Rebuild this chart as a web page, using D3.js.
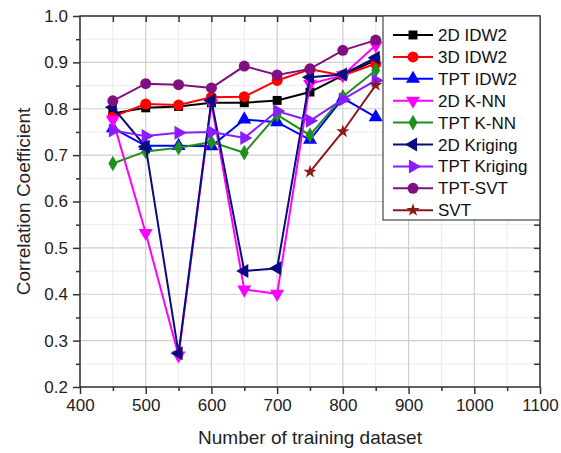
<!DOCTYPE html>
<html><head><meta charset="utf-8">
<script src="https://cdn.jsdelivr.net/npm/d3@7"></script>
<style>body{margin:0;background:#fff;} text{font-family:"Liberation Sans",Arial,sans-serif;}</style>
</head><body>
<svg id="c" width="561" height="453"></svg>
<script>
const xValues = [450, 500, 550, 600, 650, 700, 750, 800, 850];
const seriesNames = ["2D IDW2","3D IDW2","TPT IDW2","2D K-NN","TPT K-NN","2D Kriging","TPT Kriging","TPT-SVT","SVT"];
const idw2D      = [0.790, 0.802, 0.805, 0.813, 0.813, 0.818, 0.836, 0.872, 0.905];
const idw3D      = [0.783, 0.810, 0.808, 0.825, 0.826, 0.861, 0.885, 0.872, 0.897];
const idwTPT     = [0.758, 0.720, 0.720, 0.719, 0.777, 0.771, 0.733, 0.823, 0.782];
const knn2D      = [0.776, 0.532, 0.268, 0.812, 0.410, 0.401, 0.854, 0.872, 0.937];
const knnTPT     = [0.682, 0.708, 0.716, 0.728, 0.705, 0.787, 0.743, 0.826, 0.883];
const kriging2D  = [0.803, 0.718, 0.273, 0.818, 0.450, 0.456, 0.868, 0.874, 0.910];
const krigingTPT = [0.753, 0.741, 0.748, 0.750, 0.737, 0.795, 0.774, 0.820, 0.861];
const svtTPT     = [0.817, 0.854, 0.852, 0.845, 0.892, 0.873, 0.886, 0.926, 0.948];
const svt        = [null, null, null, null, null, null, 0.664, 0.751, 0.851];
const xTicks = [400, 500, 600, 700, 800, 900, 1000, 1100];
const yTicks = [0.2, 0.3, 0.4, 0.5, 0.6, 0.7, 0.8, 0.9, 1.0];

const allSeries = [idw2D, idw3D, idwTPT, knn2D, knnTPT, kriging2D, krigingTPT, svtTPT, svt];
const colors = ["#000000","#ff0000","#0000ff","#ff00ff","#1f8f1f","#0b0b80","#8a1cff","#80107f","#8b1a1a"];
const shapes = [
  {t:d3.symbolSquare, r:0, s:80},
  {t:d3.symbolCircle, r:0, s:95},
  {t:d3.symbolTriangle, r:0, s:85},
  {t:d3.symbolTriangle, r:180, s:85},
  {t:d3.symbolDiamond, r:0, s:70},
  {t:d3.symbolTriangle, r:-90, s:85},
  {t:d3.symbolTriangle, r:90, s:85},
  {t:d3.symbolCircle, r:0, s:95},
  {t:d3.symbolStar, r:0, s:55}
];

const svg = d3.select("#c");
const L = 80, R = 540, T = 16, B = 387;
const x = d3.scaleLinear().domain([400, 1100]).range([L, R]);
const y = d3.scaleLinear().domain([0.2, 1.0]).range([B, T]);

// grid
const minorX = d3.range(450, 1100, 100);
const minorY = d3.range(0.25, 1.0, 0.1);
const g = svg.append("g");
g.selectAll(".mx").data(minorX).enter().append("line")
  .attr("x1", d => x(d)).attr("x2", d => x(d)).attr("y1", T).attr("y2", B)
  .attr("stroke", "#ececec").attr("stroke-width", 1);
g.selectAll(".my").data(minorY).enter().append("line")
  .attr("y1", d => y(d)).attr("y2", d => y(d)).attr("x1", L).attr("x2", R)
  .attr("stroke", "#ececec").attr("stroke-width", 1);
g.selectAll(".gx").data(xTicks).enter().append("line")
  .attr("x1", d => x(d)).attr("x2", d => x(d)).attr("y1", T).attr("y2", B)
  .attr("stroke", "#cfcfcf").attr("stroke-width", 1.2);
g.selectAll(".gy").data(yTicks).enter().append("line")
  .attr("y1", d => y(d)).attr("y2", d => y(d)).attr("x1", L).attr("x2", R)
  .attr("stroke", "#cfcfcf").attr("stroke-width", 1.2);

// axes
const fmtY = d3.format(".1f");
const axBottom = svg.append("g").attr("transform", `translate(0,${B})`)
  .call(d3.axisBottom(x).tickValues(xTicks).tickSize(7).tickPadding(5).tickFormat(d3.format("d")));
const axBottomMinor = svg.append("g").attr("transform", `translate(0,${B})`)
  .call(d3.axisBottom(x).tickValues(minorX).tickSize(4).tickFormat(""));
const axLeft = svg.append("g").attr("transform", `translate(${L},0)`)
  .call(d3.axisLeft(y).tickValues(yTicks).tickSize(7).tickPadding(5).tickFormat(fmtY));
const axLeftMinor = svg.append("g").attr("transform", `translate(${L},0)`)
  .call(d3.axisLeft(y).tickValues(minorY).tickSize(4).tickFormat(""));
const axTop = svg.append("g").attr("transform", `translate(0,${T})`)
  .call(d3.axisBottom(x).tickValues(d3.range(450, 1100, 50)).tickSize(6).tickFormat(""));
const axRight = svg.append("g").attr("transform", `translate(${R},0)`)
  .call(d3.axisLeft(y).tickValues(d3.range(0.25, 1.0, 0.05)).tickSize(6).tickFormat(""));
[axBottom, axBottomMinor, axLeft, axLeftMinor, axTop, axRight].forEach(a => {
  a.selectAll(".domain").remove();
  a.selectAll("line").attr("stroke", "#333").attr("stroke-width", 1.5);
  a.selectAll("text").attr("fill", "#222").style("font-size", "17px")
    .style("font-family", '"Liberation Sans", Arial, sans-serif');
});
svg.append("rect").attr("x", L).attr("y", T).attr("width", R - L).attr("height", B - T)
  .attr("fill", "none").attr("stroke", "#333").attr("stroke-width", 1.5);

// series
allSeries.forEach((vals, i) => {
  const pts = xValues.map((xv, j) => ({x: xv, y: vals[j]})).filter(p => p.y !== null);
  svg.append("path").datum(pts)
    .attr("fill", "none").attr("stroke", colors[i]).attr("stroke-width", 2)
    .attr("d", d3.line().x(p => x(p.x)).y(p => y(p.y)));
  const sym = d3.symbol().type(shapes[i].t).size(shapes[i].s);
  svg.selectAll(null).data(pts).enter().append("path")
    .attr("d", sym)
    .attr("transform", p => `translate(${x(p.x)},${y(p.y)}) rotate(${shapes[i].r})`)
    .attr("fill", colors[i]);
});

// legend
const lg = svg.append("g");
lg.append("rect").attr("x", 383).attr("y", T).attr("width", R - 383).attr("height", 204)
  .attr("fill", "#fff").attr("stroke", "#444").attr("stroke-width", 1.2);
seriesNames.forEach((name, i) => {
  const cy = 35 + i * 21.9;
  lg.append("line").attr("x1", 393).attr("x2", 433).attr("y1", cy).attr("y2", cy)
    .attr("stroke", colors[i]).attr("stroke-width", 2);
  lg.append("path").attr("d", d3.symbol().type(shapes[i].t).size(shapes[i].s)())
    .attr("transform", `translate(413,${cy}) rotate(${shapes[i].r})`).attr("fill", colors[i]);
  lg.append("text").attr("x", 438).attr("y", cy + 6).text(name)
    .style("font-size", "17px").attr("fill", "#111");
});

// titles
svg.append("text").attr("x", (L + R) / 2).attr("y", 444).attr("text-anchor", "middle")
  .style("font-size", "19px").attr("fill", "#222").text("Number of training dataset");
svg.append("text").attr("transform", `translate(30,${(T + B) / 2}) rotate(-90)`).attr("text-anchor", "middle")
  .style("font-size", "19px").attr("fill", "#222").text("Correlation Coefficient");
</script>
</body></html>
